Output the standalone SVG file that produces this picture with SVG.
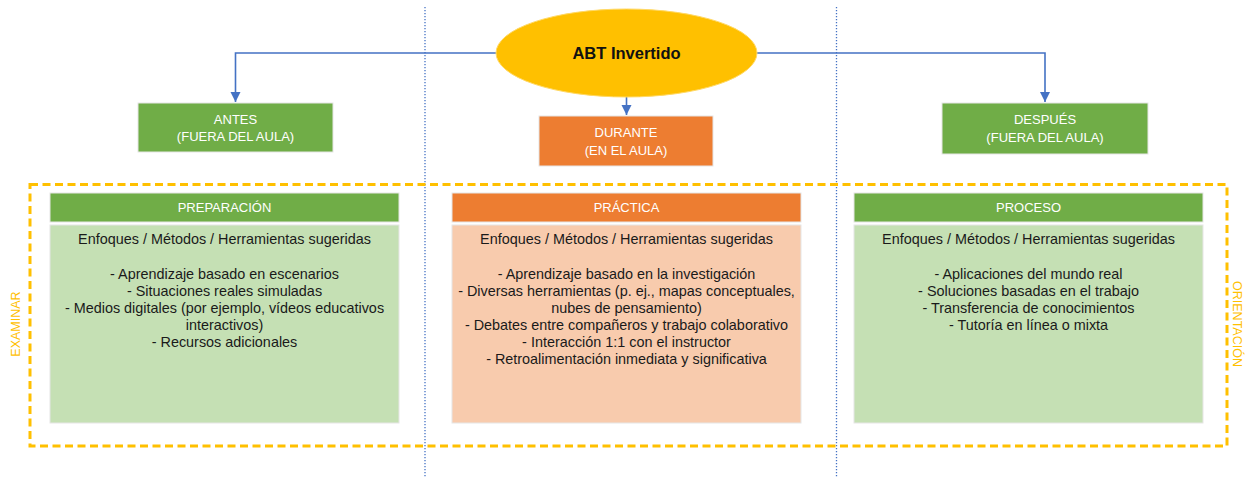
<svg xmlns="http://www.w3.org/2000/svg" width="1246" height="477" viewBox="0 0 1246 477">
<style>
  text { font-family: "Liberation Sans", Arial, sans-serif; text-anchor: middle; dominant-baseline: central; }
  .hdr { font-size: 13px; fill: #ffffff; }
  .body { font-size: 14.4px; fill: #1a1a1a; }
  .side { font-size: 12.5px; fill: #FFC000; }
  .green { fill: #70AD47; stroke: #E6E6E6; stroke-width: 1; }
  .lgreen { fill: #C5E0B4; stroke: #E6E6E6; stroke-width: 1; }
  .orange { fill: #ED7D31; stroke: #E6E6E6; stroke-width: 1; }
  .lorange { fill: #F8CBAD; stroke: #E6E6E6; stroke-width: 1; }
  .conn { fill: none; stroke: #4472C4; stroke-width: 1.6; }
  .dot { fill: none; stroke: #4472C4; stroke-width: 1.3; stroke-dasharray: 1.3 1.7; }
</style>
<defs>
  <marker id="arr" viewBox="0 0 10 10" refX="10" refY="5" markerWidth="6.5" markerHeight="6.5" orient="auto" markerUnits="strokeWidth">
    <path d="M0,0 L10,5 L0,10 z" fill="#4472C4"/>
  </marker>
</defs>
<rect width="1246" height="477" fill="#ffffff"/>

<g id="guides">
  <line class="dot" x1="425" y1="7" x2="425" y2="477"/>
  <line class="dot" x1="836.5" y1="7" x2="836.5" y2="477"/>
  <rect x="30" y="184.5" width="1197" height="261.5" fill="none" stroke="#FFC000" stroke-width="3" stroke-dasharray="8 4.5"/>
  <text class="side" transform="translate(16,324) rotate(-90)">EXAMINAR</text>
  <text class="side" transform="translate(1237,324) rotate(90)">ORIENTACIÓN</text>
</g>

<g id="connectors">
  <polyline class="conn" points="497,53 235.5,53 235.5,102" marker-end="url(#arr)"/>
  <polyline class="conn" points="756,53 1045,53 1045,102" marker-end="url(#arr)"/>
  <polyline class="conn" points="626.5,96 626.5,115" marker-end="url(#arr)"/>
</g>

<g id="abt">
  <ellipse cx="626.5" cy="53" rx="130.5" ry="44" fill="#FFC000" stroke="#FFD966" stroke-width="1"/>
  <text x="626.5" y="53" style="font-size:16.5px;font-weight:bold;fill:#111">ABT Invertido</text>
</g>

<g id="antes">
  <rect class="green" x="138" y="103" width="195" height="49"/>
  <text class="hdr" x="235.5" y="119">ANTES</text>
  <text class="hdr" x="235.5" y="136.5">(FUERA DEL AULA)</text>
</g>

<g id="durante">
  <rect class="orange" x="539" y="116" width="174" height="50"/>
  <text class="hdr" x="626" y="132.5">DURANTE</text>
  <text class="hdr" x="626" y="150">(EN EL AULA)</text>
</g>

<g id="despues">
  <rect class="green" x="942" y="103" width="206" height="51"/>
  <text class="hdr" x="1045" y="119.5">DESPUÉS</text>
  <text class="hdr" x="1045" y="137">(FUERA DEL AULA)</text>
</g>

<g id="preparacion">
  <rect class="green" x="50" y="193" width="349" height="29"/>
  <text class="hdr" x="224.5" y="207.5">PREPARACIÓN</text>
  <rect class="lgreen" x="50" y="225" width="349" height="198"/>
  <text class="body" x="224.5" y="239">Enfoques / Métodos / Herramientas sugeridas</text>
  <text class="body" x="224.5" y="273.5">- Aprendizaje basado en escenarios</text>
  <text class="body" x="224.5" y="290.7">- Situaciones reales simuladas</text>
  <text class="body" x="224.5" y="308">- Medios digitales (por ejemplo, vídeos educativos</text>
  <text class="body" x="224.5" y="325">interactivos)</text>
  <text class="body" x="224.5" y="342">- Recursos adicionales</text>
</g>

<g id="practica">
  <rect class="orange" x="452" y="193" width="349" height="29"/>
  <text class="hdr" x="626.5" y="207.5">PRÁCTICA</text>
  <rect class="lorange" x="452" y="225" width="349" height="198"/>
  <text class="body" x="626.5" y="239">Enfoques / Métodos / Herramientas sugeridas</text>
  <text class="body" x="626.5" y="273.5">- Aprendizaje basado en la investigación</text>
  <text class="body" x="626.5" y="290.7">- Diversas herramientas (p. ej., mapas conceptuales,</text>
  <text class="body" x="626.5" y="308">nubes de pensamiento)</text>
  <text class="body" x="626.5" y="325">- Debates entre compañeros y trabajo colaborativo</text>
  <text class="body" x="626.5" y="342">- Interacción 1:1 con el instructor</text>
  <text class="body" x="626.5" y="359">- Retroalimentación inmediata y significativa</text>
</g>

<g id="proceso">
  <rect class="green" x="854" y="193" width="349" height="29"/>
  <text class="hdr" x="1028.5" y="207.5">PROCESO</text>
  <rect class="lgreen" x="854" y="225" width="349" height="198"/>
  <text class="body" x="1028.5" y="239">Enfoques / Métodos / Herramientas sugeridas</text>
  <text class="body" x="1028.5" y="273.5">- Aplicaciones del mundo real</text>
  <text class="body" x="1028.5" y="290.7">- Soluciones basadas en el trabajo</text>
  <text class="body" x="1028.5" y="308">- Transferencia de conocimientos</text>
  <text class="body" x="1028.5" y="325">- Tutoría en línea o mixta</text>
</g>
</svg>
